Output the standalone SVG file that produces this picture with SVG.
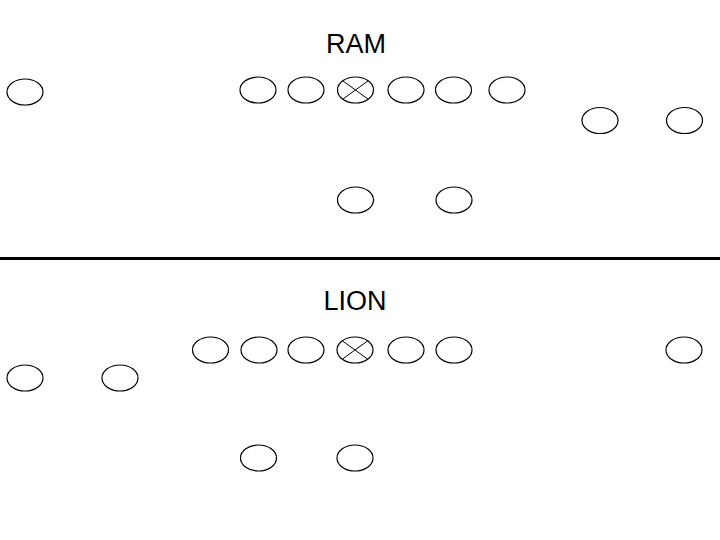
<svg xmlns="http://www.w3.org/2000/svg" width="720" height="540" viewBox="0 0 720 540">
<style>
.p{fill:#fff;stroke:#000;stroke-width:1.2}
.x{stroke:#000;stroke-width:1}
.t{font-family:"Liberation Sans",Arial,sans-serif;font-size:27px;fill:#000;text-anchor:middle}
</style>
<defs>
<ellipse id="o" class="p" cx="0" cy="0" rx="18" ry="13"/>
<g id="c"><use href="#o"/><line class="x" x1="-12.7" y1="-9.2" x2="12.7" y2="9.2"/><line class="x" x1="-12.7" y1="9.2" x2="12.7" y2="-9.2"/></g>
</defs>
<rect width="720" height="540" fill="#fff"/>
<text class="t" x="356" y="53">RAM</text>
<text class="t" x="355" y="310">LION</text>
<g id="connectors"><line x1="0" y1="258.5" x2="720" y2="258.5" stroke="#000" stroke-width="3"/></g>
<g id="ram">
<g id="r1"><use href="#o" x="25" y="92"/></g>
<g id="r2"><use href="#o" x="258" y="90"/></g>
<g id="r3"><use href="#o" x="306" y="90"/></g>
<g id="r4"><use href="#c" x="355.5" y="90"/></g>
<g id="r5"><use href="#o" x="406" y="90"/></g>
<g id="r6"><use href="#o" x="453.5" y="90"/></g>
<g id="r7"><use href="#o" x="507" y="90"/></g>
<g id="r8"><use href="#o" x="600" y="120.5"/></g>
<g id="r9"><use href="#o" x="684.5" y="120.5"/></g>
<g id="r10"><use href="#o" x="355.5" y="200"/></g>
<g id="r11"><use href="#o" x="454" y="200"/></g>
</g>
<g id="lion">
<g id="l1"><use href="#o" x="25" y="378"/></g>
<g id="l2"><use href="#o" x="120" y="378"/></g>
<g id="l3"><use href="#o" x="210.5" y="350"/></g>
<g id="l4"><use href="#o" x="259" y="350"/></g>
<g id="l5"><use href="#o" x="306" y="350"/></g>
<g id="l6"><use href="#c" x="355" y="350"/></g>
<g id="l7"><use href="#o" x="406" y="350"/></g>
<g id="l8"><use href="#o" x="454" y="350"/></g>
<g id="l9"><use href="#o" x="684" y="350"/></g>
<g id="l10"><use href="#o" x="258.5" y="458"/></g>
<g id="l11"><use href="#o" x="355" y="458"/></g>
</g>
</svg>
